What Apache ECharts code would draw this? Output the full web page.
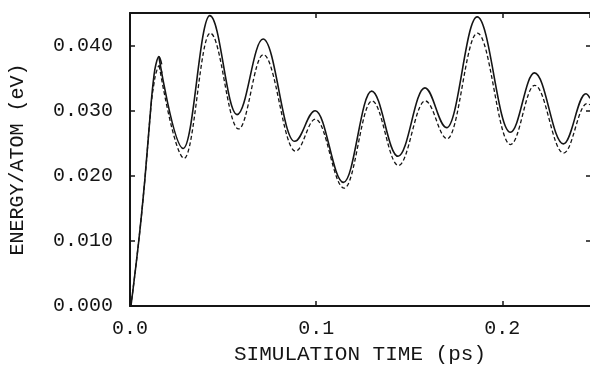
<!DOCTYPE html>
<html>
<head>
<meta charset="utf-8">
<script src="https://cdn.jsdelivr.net/npm/echarts@6/dist/echarts.min.js"></script>
<style>
  html, body { margin: 0; padding: 0; background: #fff; }
  #chart { width: 590px; height: 370px; }
</style>
</head>
<body>
<div id="chart"></div>
<script>
// initial heating ramp, simulation time (ps) vs energy per atom (eV)
const riseTime = [0.0005, 0.0047, 0.0080, 0.0114, 0.0128, 0.0139, 0.0155, 0.0170];
const riseSolid = [0.0000, 0.0100, 0.0195, 0.0313, 0.0352, 0.0371, 0.0383, 0.0371];
const riseTimeDashed = [0.0005, 0.0047, 0.0080, 0.0114, 0.0129, 0.0141, 0.0157, 0.0172];
const riseDashed = [0.0000, 0.0100, 0.0195, 0.0310, 0.0342, 0.0359, 0.0369, 0.0358];

// oscillation peaks and troughs, from the first peak onward
const timeSolid = [0.0155, 0.0286, 0.0429, 0.0575, 0.0715, 0.0884, 0.0995, 0.1147, 0.1298, 0.1440,
  0.1584, 0.1701, 0.1865, 0.2043, 0.2173, 0.2328, 0.2449, 0.2471];
const energySolid = [0.0383, 0.0242, 0.0446, 0.0294, 0.0410, 0.0253, 0.0300, 0.0190, 0.0330, 0.0230,
  0.0335, 0.0274, 0.0444, 0.0267, 0.0358, 0.0249, 0.0326, 0.0319];

const timeDashed = [0.0157, 0.0291, 0.0431, 0.0583, 0.0716, 0.0889, 0.0996, 0.1151, 0.1300, 0.1442,
  0.1586, 0.1704, 0.1866, 0.2044, 0.2174, 0.2329, 0.2455, 0.2471];
const energyDashed = [0.0369, 0.0227, 0.0419, 0.0272, 0.0386, 0.0238, 0.0287, 0.0181, 0.0315, 0.0216,
  0.0315, 0.0257, 0.0419, 0.0248, 0.0339, 0.0235, 0.0311, 0.0309];

const xMax = 0.2471;
const yMax = 0.045;

const FONT = '"Liberation Mono", "DejaVu Sans Mono", monospace';
const INK = '#151515';

function pairs(xs, ys) {
  return xs.map((x, i) => [x, ys[i]]);
}

const solidStyle = { color: INK, width: 1.6 };
const dashedStyle = { color: INK, width: 1.3, type: [4, 2.5] };

const chart = echarts.init(document.getElementById('chart'), null, { renderer: 'canvas' });

chart.setOption({
  animation: false,
  grid: { left: 128, right: 0, top: 13, bottom: 50 },
  xAxis: [
    {
      type: 'value',
      min: 0,
      max: xMax,
      interval: 0.1,
      name: 'SIMULATION TIME (ps)',
      nameLocation: 'middle',
      nameGap: 37,
      nameTextStyle: { color: INK, fontFamily: FONT, fontSize: 21 },
      axisLine: { onZero: false, lineStyle: { color: INK, width: 2 } },
      axisTick: { inside: true, length: 5, lineStyle: { color: INK, width: 1.5 } },
      axisLabel: {
        color: INK,
        fontFamily: FONT,
        fontSize: 20,
        margin: 13,
        showMaxLabel: false,
        formatter: (v) => v.toFixed(1),
      },
      splitLine: { show: false },
    },
    {
      type: 'value',
      position: 'top',
      min: 0,
      max: xMax,
      interval: 0.1,
      axisLine: { onZero: false, lineStyle: { color: INK, width: 2 } },
      axisTick: { inside: true, length: 5, lineStyle: { color: INK, width: 1.5 } },
      axisLabel: { show: false },
      splitLine: { show: false },
    },
  ],
  yAxis: [
    {
      type: 'value',
      min: 0,
      max: yMax,
      interval: 0.01,
      name: 'ENERGY/ATOM (eV)',
      nameLocation: 'middle',
      nameGap: 102,
      nameTextStyle: { color: INK, fontFamily: FONT, fontSize: 20 },
      axisLine: { onZero: false, lineStyle: { color: INK, width: 2 } },
      axisTick: { inside: true, length: 5, lineStyle: { color: INK, width: 1.5 } },
      axisLabel: {
        color: INK,
        fontFamily: FONT,
        fontSize: 20,
        margin: 17,
        showMaxLabel: false,
        formatter: (v) => v.toFixed(3),
      },
      splitLine: { show: false },
    },
    {
      type: 'value',
      position: 'right',
      min: 0,
      max: yMax,
      interval: 0.01,
      axisLine: { show: false, onZero: false },
      axisTick: { show: true, inside: true, length: 4, lineStyle: { color: INK, width: 1.5 } },
      axisLabel: { show: false },
      splitLine: { show: false },
    },
  ],
  series: [
    {
      type: 'line',
      smooth: 0.4,
      showSymbol: false,
      lineStyle: solidStyle,
      data: pairs(riseTime, riseSolid),
    },
    {
      type: 'line',
      smooth: 0.4,
      showSymbol: false,
      lineStyle: dashedStyle,
      data: pairs(riseTimeDashed, riseDashed),
    },
    {
      type: 'line',
      smooth: 0.38,
      smoothMonotone: 'x',
      showSymbol: false,
      lineStyle: solidStyle,
      data: pairs(timeSolid, energySolid),
    },
    {
      type: 'line',
      smooth: 0.38,
      smoothMonotone: 'x',
      showSymbol: false,
      lineStyle: dashedStyle,
      data: pairs(timeDashed, energyDashed),
    },
  ],
});
</script>
</body>
</html>
